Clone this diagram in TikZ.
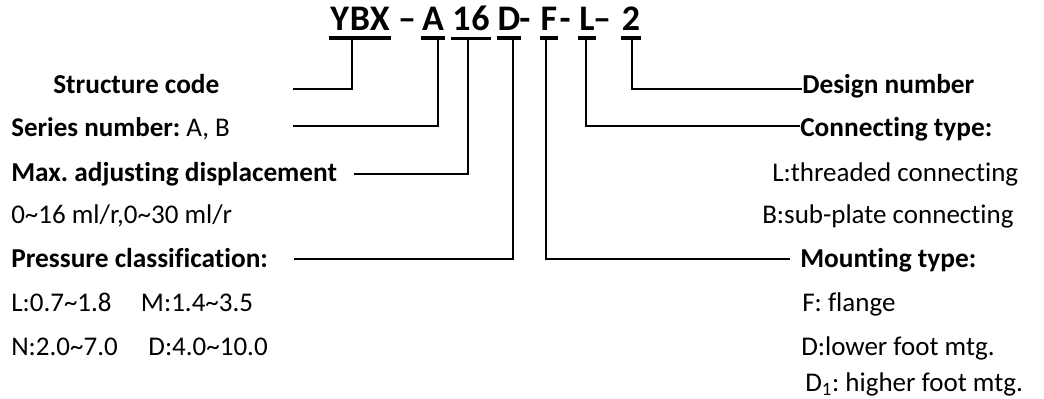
\documentclass[tikz,border=0pt]{standalone}
\usepackage{fontspec}
\setmainfont{Carlito}[Ligatures=NoCommon]
\usetikzlibrary{calc}
\frenchspacing

\tikzset{
  code/.style={font=\fontsize{27}{32}\selectfont\bfseries\addfontfeature{LetterSpace=2}, inner xsep=0.5pt, inner ysep=5.25pt, anchor=base},
  hyph/.style={font=\fontsize{27}{32}\selectfont\bfseries, inner sep=0pt, anchor=base},
  uline/.style={line width=2.8pt},
  link/.style={line width=1.1pt},
  txt/.style={font=\fontsize{20.25}{24}\selectfont, inner sep=0pt, anchor=base west},
  head/.style={font=\fontsize{20.5}{24}\selectfont\bfseries, inner sep=0pt, anchor=base west},
}

\begin{document}
\begin{tikzpicture}[x=0.75pt,y=-0.75pt]
        \useasboundingbox (0,0) rectangle (1044,399);

        % Model code
        \node[code] (ybx) at (360,31) {YBX};
        \node[hyph] (d1) at (407,31) {--};
        \node[code] (ser) at (433,31) {A};
        \node[code] (disp) at (471,31) {16};
        \node[code] (pres) at (509,31) {D};
        \node[hyph] (d2) at (525,31) {-};
        \node[code] (mnt) at (549,31) {F};
        \node[hyph] (d3) at (565,31) {-};
        \node[code] (conn) at (587,31) {L};
        \node[hyph] (d4) at (602,31) {--};
        \node[code] (des) at (631,31) {2};
        \foreach \c in {ybx,ser,disp,pres,mnt,conn,des}
            \draw[uline] (\c.south west) -- (\c.south east);

        % Left column
        \node[head] (struct) at (53,94) {Structure code};
        \node[txt] (series) at (11,137) {\textbf{Series number:} A, B};
        \node[head] (maxd) at (11,181) {Max. adjusting displacement};
        \node[txt] (range) at (11,223) {0\textasciitilde16 ml/r,0\textasciitilde30 ml/r};
        \node[head] (press) at (11,267) {Pressure classification:};
        \node[txt] (lm) at (11,311) {L:0.7\textasciitilde1.8\hspace*{22pt}M:1.4\textasciitilde3.5};
        \node[txt] (nd) at (11,355) {N:2.0\textasciitilde7.0\hspace*{23pt}D:4.0\textasciitilde10.0};

        % Right column
        \node[head] (design) at (802,94) {Design number};
        \node[head] (conntype) at (800,137) {Connecting type:};
        \node[txt] (thread) at (772,181) {L:threaded connecting};
        \node[txt] (plate) at (762,223) {B:sub-plate connecting};
        \node[head] (mnttype) at (800,267) {Mounting type:};
        \node[txt] (flange) at (802,311) {F: flange};
        \node[txt] (lower) at (801,355) {D:lower foot mtg.};
        \node[txt] (higher) at (805,391) {D\textsubscript{1}: higher foot mtg.};

        % Line ends
        \coordinate (e-struct) at (293,89);
        \coordinate (e-series) at (293,126);
        \coordinate (e-maxd) at (354,174);
        \coordinate (e-press) at (294,259);
        \coordinate (e-mnt) at (790,259);
        \coordinate (e-conn) at (800,126);
        \coordinate (e-des) at (802,89);

        % Leaders
        \draw[link] ([xshift=-6pt]ybx.south) |- (e-struct);
        \draw[link] ([xshift=3.75pt]ser.south) |- (e-series);
        \draw[link] ([xshift=-2.25pt]disp.south) |- (e-maxd);
        \draw[link] ([xshift=3pt]pres.south) |- (e-press);
        \draw[link] ([xshift=-2.25pt]mnt.south) |- (e-mnt);
        \draw[link] ([xshift=-0.75pt]conn.south) |- (e-conn);
        \draw[link] ([xshift=0.75pt]des.south) |- (e-des);
\end{tikzpicture}
\end{document}
